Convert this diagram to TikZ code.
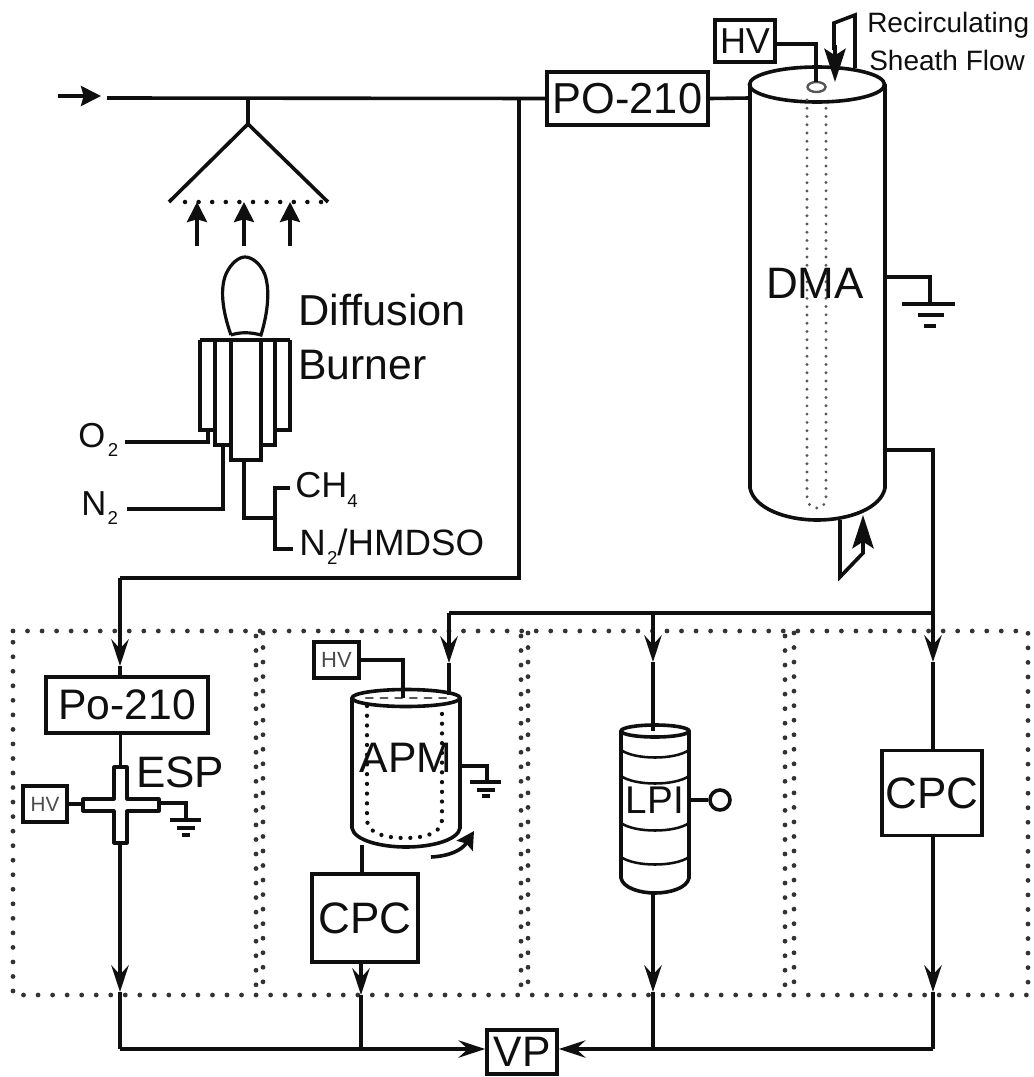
\documentclass[tikz,border=0pt]{standalone}
\usepackage{fontspec}
\setmainfont{Liberation Sans}
\usetikzlibrary{arrows.meta}
\newcommand{\fsz}[1]{\fontsize{#1}{#1}\selectfont}
\newcommand{\subtxt}[2]{\kern#2\raisebox{-7pt}{\fsz{14}#1}}
\definecolor{ink}{gray}{0.06}
\tikzset{
  pipe/.style={draw=ink,line width=2.7pt,line join=miter},
  thin pipe/.style={draw=ink,line width=2.4pt},
  flow/.style={pipe,-{Stealth[length=20pt,width=13pt,inset=7pt]}},
  fatflow/.style={pipe,-{Stealth[length=25pt,width=16pt,inset=5pt]}},
  smallflow/.style={pipe,-{Stealth[length=15pt,width=15pt,inset=2pt]}},
  box/.style={draw=ink,line width=2.7pt,fill=white,inner sep=0pt,text=ink,anchor=center},
  lab/.style={inner sep=0pt,text=ink,anchor=west},
  clab/.style={inner sep=0pt,text=ink,anchor=center},
  dots/.style={draw=ink!85,line width=3.6pt,line cap=round,dash pattern=on 0pt off 10.9pt},
  finedots/.style={draw=ink!70,line width=2.4pt,line cap=round,dash pattern=on 0pt off 6.2pt},
  wall/.style={draw=ink,line width=2.7pt},
}
\begin{document}
\begin{tikzpicture}[x=0.75pt,y=-0.75pt]
\useasboundingbox (0,0) rectangle (1034,1077);
% dotted enclosure
\draw[dots] (13,631) -- (1028,631) -- (1028,995) -- (13,995) -- cycle;
\foreach \xa/\xb in {256/263,521/528,785/794}{
  \draw[dots] (\xa,636) -- (\xa,990);
  \draw[dots] (\xb,633) -- (\xb,985);
}
% Main boxes
\node[box,minimum width=161pt*0.75,minimum height=53pt*0.75] (po) at (627.5,98.5) {\fsz{32.5}PO-210};
\node[box,minimum width=60pt*0.75,minimum height=42pt*0.75] (hvd) at (745,41) {\fsz{27}HV};
\node[box,minimum width=162pt*0.75,minimum height=56pt*0.75] (po2) at (127,705) {\fsz{32}Po-210\hspace{9pt}};
\node[box,minimum width=44pt*0.75,minimum height=36pt*0.75] (hve) at (45,804) {\color{ink!75}\fsz{15.5}HV};
\node[box,minimum width=45pt*0.75,minimum height=36pt*0.75] (hva) at (336.5,660) {\color{ink!75}\fsz{16.5}HV};
\node[box,minimum width=106pt*0.75,minimum height=88pt*0.75] (cpca) at (365,918) {\fsz{33}CPC};
\node[box,minimum width=100pt*0.75,minimum height=85pt*0.75] (cpcb) at (932,793) {\fsz{33}CPC};
\node[box,minimum width=70pt*0.75,minimum height=44pt*0.75] (vp) at (522,1052) {\fsz{32}VP};
% coordinates
\coordinate (in0) at (58,96); \coordinate (in1) at (101,96);
\coordinate (trunk) at (107,98);
\coordinate (hoodtop) at (248,98); \coordinate (hoodapex) at (248,124);
\coordinate (tee) at (519,98); \coordinate (teeb) at (519,578); \coordinate (c1) at (120,578);
\coordinate (a1) at (120,666);
\coordinate (dmaL) at (750,98);
\coordinate (dmaR) at (885,450); \coordinate (dmac) at (933,450); \coordinate (split) at (933,613);
\coordinate (a4) at (933,662); \coordinate (a3top) at (653,613); \coordinate (a3) at (653,662);
\coordinate (a2top) at (449,613); \coordinate (a2) at (449,663);
% inlet and trunk
\draw[smallflow] (in0) -- (in1);
\draw[pipe] (trunk) -- (po.west);
\draw[pipe] (po.east) -- (dmaL);
\draw[pipe] (hoodtop) -- (hoodapex);
\draw[pipe] (tee) -- (teeb) -- (c1);
\draw[pipe] (169,202) -- (hoodapex) -- (328,202);
\draw[draw=ink,line width=3.4pt,line cap=round,dash pattern=on 0pt off 10.2pt] (185,202) -- (322,202);
\foreach \x in {197,244,290}{\draw[smallflow] (\x,246) -- (\x,202);}
% flame
\draw[pipe,line width=2.4pt] (231,335) .. controls (222,310) and (220,288) .. (226,274) .. controls (231,263) and (239,257) .. (245,257)
  .. controls (252,257) and (261,264) .. (265,275) .. controls (270,290) and (268,312) .. (261,335)
  .. controls (250,332) and (240,332) .. (231,335);
% burner
\draw[pipe,line width=2.4pt] (200,340) -- (290,340);
\draw[pipe,line width=2.4pt] (200,340) -- (200,430) -- (215,430);
\draw[pipe,line width=2.4pt] (290,340) -- (290,430) -- (275,430);
\draw[pipe,line width=2.4pt] (215,340) -- (215,445) -- (231,445);
\draw[pipe,line width=2.4pt] (275,340) -- (275,445) -- (261,445);
\draw[pipe,line width=2.4pt] (231,340) -- (231,460) -- (261,460) -- (261,340);
\coordinate (o2e) at (125,442); \coordinate (o2k) at (208,442); \coordinate (o2t) at (208,430);
\coordinate (n2e) at (127,509); \coordinate (n2k) at (223,509); \coordinate (n2t) at (223,445);
\draw[pipe] (o2e) -- (o2k) -- (o2t);
\draw[pipe] (n2e) -- (n2k) -- (n2t);
\coordinate (fuelt) at (244,460); \coordinate (fuelk) at (244,518); \coordinate (brk) at (275,518);
\draw[pipe] (fuelt) -- (fuelk) -- (brk);
\draw[pipe] (290,488) -- (275,488) -- (275,549) -- (293,549);
\node[lab] (diff) at (298,310) {\fsz{32.5}Diffusion};
\node[lab] (burn) at (298,365) {\fsz{32}Burner};
\node[lab] (o2) at (78,440) {\fsz{26}O\subtxt{2}{2pt}};
\node[lab] (n2) at (81,508) {\fsz{26}N\subtxt{2}{1pt}};
\node[lab] (ch4) at (295,490) {\fsz{27}CH\subtxt{4}{0pt}};
\node[lab] (hmd) at (299,547) {\fsz{27.5}N\subtxt{2}{1pt}/HMDSO};
% DMA
\draw[wall] (750,84) -- (750,488) .. controls (754,508) and (785,520) .. (817,520) .. controls (850,520) and (881,508) .. (885,488) -- (885,84);
\draw[wall] (817,84.5) ellipse [x radius=67.5,y radius=17.5];
\draw[finedots] (807,100) -- (807,496) .. controls (807,505) and (812,508) .. (817,508) .. controls (822,508) and (826,505) .. (826,496) -- (826,100);
\draw[draw=ink!70,line width=1.8pt] (816.5,87) ellipse [x radius=9,y radius=5];
\node[clab] (dma) at (815,283) {\fsz{33}DMA};
\draw[pipe] (hvd.east) ++(0,3) -- (816,44) -- (816,82);
\draw[pipe] (855,68) -- (855,15) -- (834,23) -- (834,50);
\draw[fatflow] (835,45) -- (835,82);
\node[lab] (rec) at (867,25) {\fsz{21}Recirculating};
\node[lab] (she) at (869,60) {\fsz{21}Sheath Flow};
% DMA ground
\coordinate (gd0) at (885,277); \coordinate (gd1) at (930,277); \coordinate (gd2) at (930,304);
\draw[pipe] (gd0) -- (gd1) -- (gd2);
\draw[pipe] (902,304) -- (955,304); \draw[pipe] (918,315) -- (944,315); \draw[pipe] (924,326) -- (936,326);
% DMA lower recirculation
\draw[pipe] (840,520) -- (840,577) -- (863,553) -- (863,540);
\draw[fatflow] (863,548) -- (863,515);
% DMA outlet
\draw[pipe] (dmaR) -- (dmac) -- (split) -- (a3top);
\draw[pipe] (a3top) -- (a2top);
\draw[flow] (split) -- (a4);
\draw[pipe] (a4) -- (cpcb.north -| a4);
\draw[flow] (a3top) -- (a3);
\draw[flow] (a2top) -- (a2);
\draw[flow] (c1) -- (a1);
\draw[pipe] (a1) -- (po2.north -| a1);
% ESP
\coordinate (ec) at (120.5,805);
\draw[pipe,line width=2.4pt,fill=white,line join=round] (114,799) -- (114,767) -- (127,767) -- (127,799) -- (159,799) -- (159,811) -- (127,811) -- (127,843) -- (114,843) -- (114,811) -- (83,811) -- (83,799) -- cycle;
\draw[pipe] (po2.south -| ec) -- (120.5,767);
\draw[pipe,line width=2.4pt] (hve.east) -- (83,804);
\node[lab] (esp) at (136,772) {\fsz{33}ESP};
\coordinate (ge0) at (159,803); \coordinate (ge1) at (186,803); \coordinate (ge2) at (186,820);
\draw[thin pipe] (ge0) -- (ge1) -- (ge2);
\draw[thin pipe] (170,820) -- (201,820); \draw[thin pipe] (177,828) -- (195,828); \draw[thin pipe] (182,835) -- (190,835);
\coordinate (b1) at (120,992); \coordinate (b1t) at (120,843);
\draw[flow] (b1t) -- (b1);
\coordinate (bl) at (120,1049); \coordinate (br) at (933,1049);
\draw[pipe] (b1) -- (bl);
\draw[flow] (bl) -- (vp.west |- bl);
% APM
\draw[pipe] (a2) -- (449,695);
\draw[wall] (352,698) -- (352,828) .. controls (354,840) and (380,847) .. (406,847) .. controls (432,847) and (458,840) .. (460,828) -- (460,698);
\draw[wall] (406,698) ellipse [x radius=54,y radius=8.5];
\draw[finedots,draw=ink,line width=3.2pt,dash pattern=on 0pt off 7.3pt] (367,706) -- (367,820) .. controls (367,833) and (385,838) .. (405,838) .. controls (425,838) and (442,833) .. (442,820) -- (442,706);
\draw[draw=ink!70,line width=2pt,line cap=round,dash pattern=on 5pt off 6pt] (366,698) -- (446,698);
\node[clab] (apm) at (406,758) {\fsz{32}APM};
\draw[thin pipe] (hva.east) -- (403,660) -- (403,698);
\coordinate (ga0) at (460,766); \coordinate (ga1) at (487,766); \coordinate (ga2) at (487,781);
\draw[thin pipe] (ga0) -- (ga1) -- (ga2);
\draw[thin pipe] (470,782) -- (501,782); \draw[thin pipe] (477,790) -- (495,790); \draw[thin pipe] (482,796) -- (490,796);
\draw[pipe,-{Stealth[length=13pt,width=14pt,inset=2pt]}] (431,857) .. controls (450,856) and (462,850) .. (474,831);
\draw[thin pipe] (362,845) -- (cpca.north -| 362,0);
\coordinate (b2) at (361,995);
\draw[flow] (cpca.south -| b2) -- (b2);
\draw[pipe] (b2) -- (361,1049);
% LPI
\draw[pipe] (a3) -- (653,731);
\draw[wall] (621,731) -- (621,878) .. controls (623,888) and (640,893) .. (655,893) .. controls (670,893) and (687,888) .. (689,878) -- (689,731);
\draw[wall] (655,731) ellipse [x radius=34,y radius=6];
\foreach \y in {750,776,823,857}{
  \draw[draw=ink,line width=1.9pt] (621,\y) .. controls (635,\y+10) and (675,\y+10) .. (689,\y);
}
\node[clab] (lpi) at (655,800) {\fsz{29}LPI};
\node[draw=ink,line width=2.7pt,circle,minimum size=20pt*0.75,inner sep=0pt] (gauge) at (720,800) {};
\draw[pipe] (689,800) -- (gauge.west);
\coordinate (b3) at (653,992);
\draw[flow] (653,893) -- (b3);
\draw[pipe] (b3) -- (653,1049);
% CPC right
\coordinate (b4) at (933,992);
\draw[flow] (cpcb.south -| b4) -- (b4);
\draw[pipe] (b4) -- (br);
\draw[flow] (br) -- (vp.east |- br);
\end{tikzpicture}
\end{document}
